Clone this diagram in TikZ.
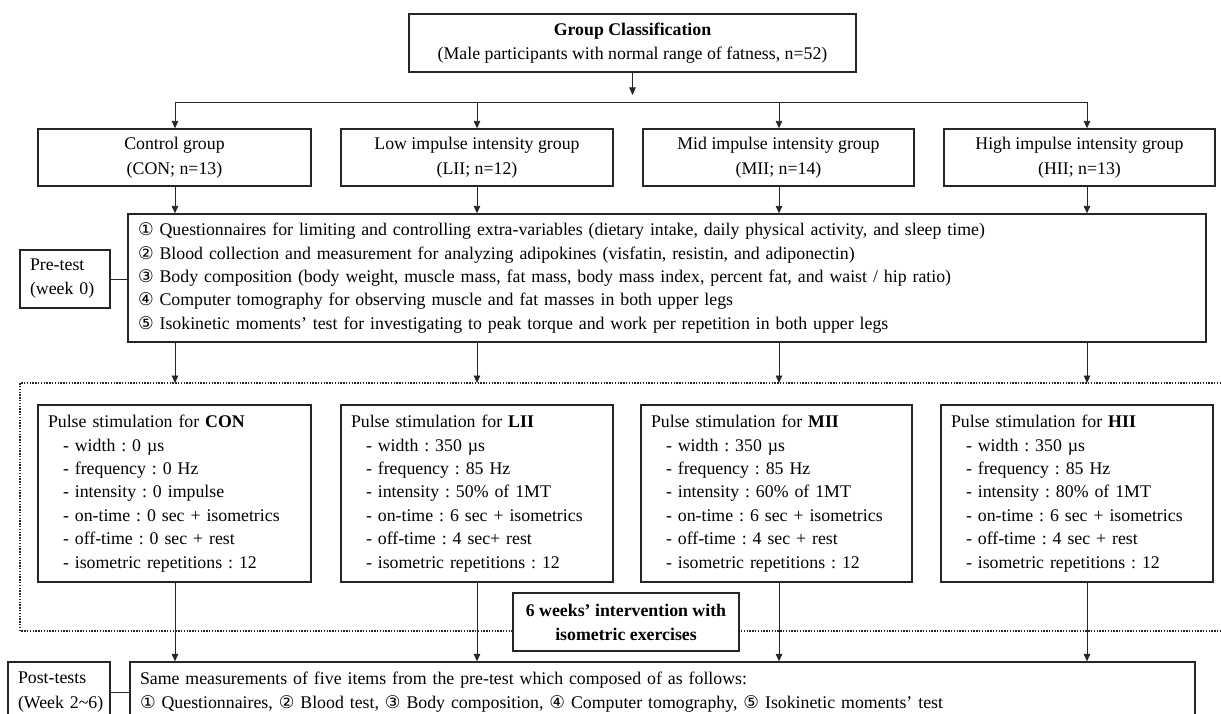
\documentclass[tikz,border=0pt]{standalone}
\usepackage{fontspec}
\setmainfont{Liberation Serif}
\newfontfamily\circfont{DejaVu Sans}
\usetikzlibrary{arrows.meta}
\frenchspacing
\newcommand{\cnum}[1]{{\circfont\fontsize{17.5}{17.5}\selectfont #1}}
\newcommand{\pulsetext}[7]{Pulse stimulation for \textbf{#1}\\
\hspace*{15pt}- width : #2\\
\hspace*{15pt}- frequency : #3\\
\hspace*{15pt}- intensity : #4\\
\hspace*{15pt}- on-time : #5\\
\hspace*{15pt}- off-time : #6\\
\hspace*{15pt}- isometric repetitions : #7}
\begin{document}
\begin{tikzpicture}[x=1pt,y=-1pt,
  font=\frenchspacing\fontsize{17.8}{23.4}\selectfont,
  box/.style={draw=black!85, line width=1.3pt, inner sep=0pt, fill=white},
  ctrbox/.style={box, align=center, font=\frenchspacing\fontsize{17.8}{24.5}\selectfont},
  lbox/.style={box, align=left, inner xsep=10pt},
  arr/.style={-{Triangle[length=7.5pt,width=6.5pt]}, line width=0.9pt, draw=black!85},
  ln/.style={line width=0.9pt, draw=black!85},
  dotline/.style={line width=1.6pt, draw=black!85, dash pattern=on 1.4pt off 1.4pt}]
\useasboundingbox (0,0) rectangle (1221,714);
\clip (0,0) rectangle (1221,714);
% dotted intervention frame
\coordinate (dtr) at (1221,383);
\coordinate (dtl) at (20,383);
\coordinate (dbl) at (20,631);
\coordinate (dbr) at (1221,631);
\draw[dotline] (dtr) -- (dtl) -- (dbl) -- (dbr);
% top
\node[ctrbox, minimum width=447, minimum height=58] (top) at (632.5,43)
  {\textbf{Group Classification}\\(Male participants with normal range of fatness, n=52)};
% groups
\node[ctrbox, minimum width=273, minimum height=57] (g1) at (174.5,157.5) {Control group\\(CON; n=13)};
\node[ctrbox, minimum width=272, minimum height=57] (g2) at (477,157.5) {Low impulse intensity group\\(LII; n=12)};
\node[ctrbox, minimum width=271, minimum height=57] (g3) at (778.5,157.5) {Mid impulse intensity group\\(MII; n=14)};
\node[ctrbox, minimum width=271, minimum height=57] (g4) at (1079.5,157.5) {High impulse intensity group\\(HII; n=13)};
% pre-test
\node[lbox, text width=1058, minimum height=128] (meas) at (667,278)
  {\cnum{①} Questionnaires for limiting and controlling extra-variables (dietary intake, daily physical activity, and sleep time)\\
   \cnum{②} Blood collection and measurement for analyzing adipokines (visfatin, resistin, and adiponectin)\\
   \cnum{③} Body composition (body weight, muscle mass, fat mass, body mass index, percent fat, and waist / hip ratio)\\
   \cnum{④} Computer tomography for observing muscle and fat masses in both upper legs\\
   \cnum{⑤} Isokinetic moments’ test for investigating to peak torque and work per repetition in both upper legs};
\node[lbox, text width=70, minimum height=58, font=\frenchspacing\fontsize{17.8}{24}\selectfont] (pre) at (65,279) {Pre-test\\\mbox{(week 0)}};
% pulse boxes
\node[lbox, text width=253, minimum height=177] (p1) at (174.5,493.5)
  {\pulsetext{CON}{0 µs}{0 Hz}{0 impulse}{0 sec + isometrics}{0 sec + rest}{12}};
\node[lbox, text width=252, minimum height=177] (p2) at (477,493.5)
  {\pulsetext{LII}{350 µs}{85 Hz}{50\% of 1MT}{6 sec + isometrics}{4 sec+ rest}{12}};
\node[lbox, text width=251, minimum height=177] (p3) at (776.5,493.5)
  {\pulsetext{MII}{350 µs}{85 Hz}{60\% of 1MT}{6 sec + isometrics}{4 sec + rest}{12}};
\node[lbox, text width=252, minimum height=177] (p4) at (1077,493.5)
  {\pulsetext{HII}{350 µs}{85 Hz}{80\% of 1MT}{6 sec + isometrics}{4 sec + rest}{12}};
% intervention label
\node[ctrbox, minimum width=226, minimum height=58, font=\frenchspacing\bfseries\fontsize{17.8}{24}\selectfont] (wk) at (626,622)
  {6 weeks’ intervention with\\isometric exercises};
% post-tests
\node[lbox, text width=1045, minimum height=60, font=\frenchspacing\fontsize{17.8}{24.5}\selectfont] (postm) at (662.5,692)
  {Same measurements of five items from the pre-test which composed of as follows:\\
   \cnum{①} Questionnaires, \cnum{②} Blood test, \cnum{③} Body composition, \cnum{④} Computer tomography, \cnum{⑤} Isokinetic moments’ test};
\node[lbox, text width=82, minimum height=60, font=\frenchspacing\fontsize{17.8}{24.5}\selectfont] (postl) at (59,692) {Post-tests\\\mbox{(Week 2\textasciitilde 6)}};
% connectors
\coordinate (tip) at (632.5,95);
\draw[arr] (top.south) -- (tip);
\coordinate (c1) at (175,102);
\coordinate (c2) at (477,102);
\coordinate (c3) at (779,102);
\coordinate (c4) at (1087,102);
\draw[ln] (c1) -- (c4);
\foreach \c/\g/\p in {c1/g1/p1, c2/g2/p2, c3/g3/p3, c4/g4/p4}{
  \draw[arr] (\c) -- (\c |- \g.north);
  \draw[arr] (\c |- \g.south) -- (\c |- meas.north);
  \draw[arr] (\c |- meas.south) -- (\c |- dtl);
  \draw[arr] (\c |- \p.south) -- (\c |- postm.north);
}
\draw[ln] (pre.east) -- (pre.east -| meas.west);
\draw[ln] (postl.east) -- (postl.east -| postm.west);
\end{tikzpicture}
\end{document}
